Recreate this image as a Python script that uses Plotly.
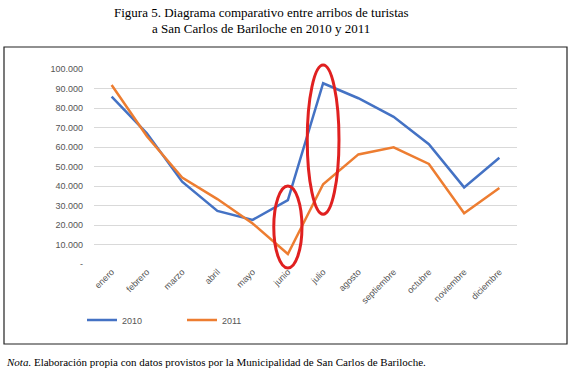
import plotly.graph_objects as go

months = ["enero", "febrero", "marzo", "abril", "mayo", "junio", "julio",
          "agosto", "septiembre", "octubre", "noviembre", "diciembre"]
y2010 = [85800, 67000, 42200, 27200, 22600, 32800, 92700, 85000, 75500, 61400, 39300, 54500]
y2011 = [91800, 65500, 44300, 33300, 20800, 5100, 40900, 56200, 59800, 51300, 26000, 39000]
ytick_vals = [0, 10000, 20000, 30000, 40000, 50000, 60000, 70000, 80000, 90000, 100000]
ytick_text = ["-", "10.000", "20.000", "30.000", "40.000", "50.000", "60.000",
              "70.000", "80.000", "90.000", "100.000"]
YMAX = 100000

W, H = 572, 370
L, R, T, B = 94, 517, 69, 264  # plot area in pixels


def px(x):
    return (x - L) / (R - L)


def py(y):
    return (B - y) / (B - T)


fig = go.Figure()
fig.add_trace(go.Scatter(x=months, y=y2010, mode="lines", name="2010",
                         line=dict(color="#4472C4", width=2.5)))
fig.add_trace(go.Scatter(x=months, y=y2011, mode="lines", name="2011",
                         line=dict(color="#ED7D31", width=2.5)))

axis_font = dict(family="Liberation Sans, Arial", size=9, color="#555555")

fig.update_layout(
    width=W, height=H,
    margin=dict(l=L, r=W - R, t=T, b=H - B),
    paper_bgcolor="white", plot_bgcolor="white",
    showlegend=True,
    legend=dict(orientation="h", x=px(82), y=py(320), xanchor="left", yanchor="middle",
                font=axis_font, entrywidth=55, bgcolor="rgba(0,0,0,0)"),
    xaxis=dict(showgrid=False, tickangle=-45, tickfont=axis_font, ticks="",
               showline=False, zeroline=False, range=[-0.5, 11.5]),
    yaxis=dict(range=[0, YMAX], tickvals=ytick_vals, ticktext=ytick_text,
               showgrid=True, gridcolor="#d9d9d9", gridwidth=1, zeroline=False,
               tickfont=axis_font, ticks="", ticklabelstandoff=10, showline=False),
)

# Outer frame
fig.add_shape(type="rect", xref="paper", yref="paper",
              x0=px(4), x1=px(567), y0=py(344), y1=py(47),
              line=dict(color="#222222", width=1.2), layer="below")

# Red ellipses highlighting junio and julio (y in paper units so they are not clipped)
fig.add_shape(type="circle", xref="x", yref="paper",
              x0=4.6, x1=5.4, y0=-2000 / YMAX, y1=40000 / YMAX,
              line=dict(color="#E02020", width=3))
fig.add_shape(type="circle", xref="x", yref="paper",
              x0=5.55, x1=6.45, y0=25500 / YMAX, y1=102000 / YMAX,
              line=dict(color="#E02020", width=3))

serif = "Liberation Serif, Times New Roman, serif"
fig.add_annotation(xref="paper", yref="paper", x=px(261), y=py(13),
                   text="Figura 5. Diagrama comparativo entre arribos de turistas",
                   showarrow=False, font=dict(family=serif, size=13, color="black"),
                   xanchor="center", yanchor="middle")
fig.add_annotation(xref="paper", yref="paper", x=px(261), y=py(28),
                   text="a San Carlos de Bariloche en 2010 y 2011",
                   showarrow=False, font=dict(family=serif, size=13, color="black"),
                   xanchor="center", yanchor="middle")
fig.add_annotation(xref="paper", yref="paper", x=px(4), y=py(362),
                   text="<i>Nota.</i> Elaboración propia con datos provistos por la Municipalidad de San Carlos de Bariloche.",
                   showarrow=False, font=dict(family=serif, size=11, color="black"),
                   xanchor="left", yanchor="middle")

fig.write_html("out.html", config={"displayModeBar": False},
               post_script="document.body.style.margin='0';document.body.style.overflow='hidden';")
